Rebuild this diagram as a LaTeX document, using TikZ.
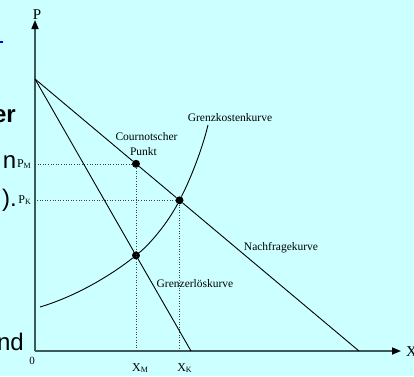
\documentclass[tikz,border=0pt]{standalone}
\usepackage{fontspec}
\setmainfont{Liberation Serif}
\newfontfamily\slidefont{Liberation Sans}
\usetikzlibrary{arrows.meta}

\definecolor{slidebg}{RGB}{204,255,255}
\definecolor{axisgray}{RGB}{60,90,90}
\definecolor{linkblue}{RGB}{0,0,230}

% variable with a lowered subscript, e.g. P_M
\newcommand{\varlbl}[2]{#1\raisebox{-0.35ex}{\fontsize{8}{9}\selectfont #2}}

\begin{document}
\begin{tikzpicture}[
  x=1pt, y=-1pt,
  axis/.style={draw=axisgray, line width=1.6pt,
               -{Triangle[length=9pt, width=7pt, color=black]}},
  curve/.style={draw=black, line width=0.9pt},
  guide/.style={draw=black!75, dotted, line width=0.6pt},
  dot/.style={circle, fill=black, inner sep=0pt, minimum size=8pt},
  lbl/.style={font=\fontsize{11.5}{13}\selectfont, inner sep=0pt},
  axlbl/.style={font=\fontsize{12}{14}\selectfont, inner sep=0pt},
  slidetext/.style={font=\slidefont\fontsize{24}{28}\selectfont,
                    inner sep=0pt, anchor=base east}
]

% ── Frame ────────────────────────────────────────────────────────────────────
\useasboundingbox (0,0) rectangle (414,376);
\fill[slidebg] (0,0) rectangle (414,376);

% ── Slide text cut off at the left edge ─────────────────────────────────────
\fill[linkblue] (0,40.5) rectangle (2.5,43);
\node[slidetext, font=\slidefont\bfseries\fontsize{24}{28}\selectfont] (frag1)
  at (16,122) {er};
\node[slidetext] (frag2) at (16.5,168) {n};
\node[slidetext] (frag3) at (17,206) {).};
\node[slidetext] (frag4) at (24,350) {nd};

% ── Axes ─────────────────────────────────────────────────────────────────────
\coordinate (O)     at (35,351);
\coordinate (ptop)  at (35,20);
\coordinate (xend)  at (401,351);
\coordinate (icept) at (35,79);
\coordinate (dend)  at (359,351);
\coordinate (mrend) at (191,351);
\coordinate (mclow) at (40,307);
\coordinate (mctop) at (208,125);

\draw[axis] (O) -- (ptop);
\draw[axis] (O) -- (xend);

\node[axlbl, font=\fontsize{15}{17}\selectfont] (plbl) at (37,14.5) {P};
\node[axlbl, font=\fontsize{15}{17}\selectfont, anchor=west] (xlbl)
  at (406,352) {X};
\node[axlbl, font=\fontsize{11}{13}\selectfont] (zero) at (32,361) {0};

% ── Equilibrium points ───────────────────────────────────────────────────────
\node[dot] (cournot) at (136,163.8) {};
\node[dot] (comp)    at (179.5,200.3) {};
\node[dot] (mrmc)    at (136,255.4) {};

% ── Guides to the axes ───────────────────────────────────────────────────────
\draw[guide] (cournot) -- (cournot -| O);
\draw[guide] (cournot) -- (cournot |- O);
\draw[guide] (comp) -- (comp -| O);
\draw[guide] (comp) -- (comp |- O);

% ── Curves ───────────────────────────────────────────────────────────────────
\draw[curve] (icept) -- (cournot) -- (comp) -- (dend);
\draw[curve] (icept) -- (mrmc) -- (mrend);
\draw[curve] (mclow) .. controls (80,295) and (115,272) .. (mrmc)
             .. controls (152,242) and (168,222) .. (comp)
             .. controls (190,180) and (202,150) .. (mctop);

% ── Labels ───────────────────────────────────────────────────────────────────
\node[lbl] (mclbl)  at (230,118) {Grenzkostenkurve};
\node[lbl] (cplbl)  at (146.5,137) {Cournotscher};
\node[lbl] (cplbl2) at (143.5,152) {Punkt};
\node[lbl] (dlbl)   at (281,248) {Nachfragekurve};
\node[lbl] (mrlbl)  at (195,284) {Grenzerlöskurve};

\node[axlbl, anchor=base east] (pm) at (31,167) {\varlbl{P}{M}};
\node[axlbl, anchor=base east] (pk) at (31,203) {\varlbl{P}{K}};
\node[axlbl, anchor=base] (xm) at (140,371) {\varlbl{X}{M}};
\node[axlbl, anchor=base] (xk) at (184.5,371) {\varlbl{X}{K}};

\end{tikzpicture}
\end{document}
